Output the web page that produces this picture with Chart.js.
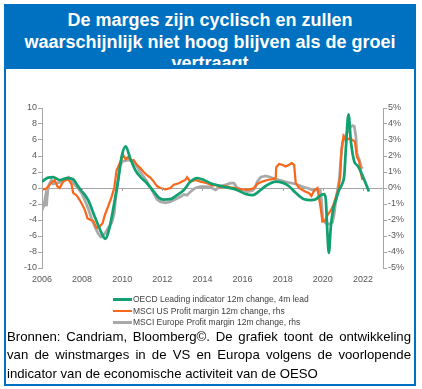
<!DOCTYPE html>
<html>
<head>
<meta charset="utf-8">
<script src="https://cdn.jsdelivr.net/npm/chart.js@4.4.1/dist/chart.umd.min.js"></script>
<style>
    html, body { margin: 0; padding: 0; background: #fff; }
    body { width: 422px; height: 389px; position: relative; overflow: hidden; font-family: "Liberation Sans", Arial, sans-serif; }
    #frame { position: absolute; left: 4px; top: 4px; width: 412px; height: 382px; box-sizing: border-box; border: 2px solid #0070C0; }
    #titleBand { position: absolute; left: 0; top: 0; width: 100%; height: 63px; background: #0070C0; }
    #title { position: absolute; left: 0; top: 0; width: 100%; height: 59.3px; color: #fff; overflow: hidden;
             font-weight: bold; font-size: 18px; line-height: 21.3px; text-align: center; padding-top: 4.4px; box-sizing: border-box; }
    #chartBox { position: absolute; left: 0; top: 95px; width: 422px; height: 200px; }
    #legend { position: absolute; left: 113px; top: 293.5px; font-size: 8.5px; color: #404040; }
    .row { display: flex; align-items: center; height: 11.5px; }
    .swatch { width: 19px; height: 2.5px; margin-right: 1px; }
    #caption { position: absolute; left: 7px; top: 328px; width: 404px; font-size: 13.2px; line-height: 18.3px; color: #000; text-align: justify; }
</style>
</head>
<body>
<div id="frame"><div id="titleBand"><div id="title">De marges zijn cyclisch en zullen waarschijnlijk niet hoog blijven als de groei vertraagt</div></div></div>
<div id="chartBox"><canvas id="marginChart"></canvas></div>
<div id="legend"></div>
<div id="caption">Bronnen: Candriam, Bloomberg©. De grafiek toont de ontwikkeling van de winstmarges in de VS en Europa volgens de voorlopende indicator van de economische activiteit van de OESO</div>

<script>
// ===== DATA =====
const xTickYears = [2006, 2008, 2010, 2012, 2014, 2016, 2018, 2020, 2022];

const seriesNames = [
    'OECD Leading indicator 12m change, 4m lead',
    'MSCI US Profit margin 12m change, rhs',
    'MSCI Europe Profit margin 12m change, rhs'
];
const seriesColors = ['#12A070', '#F7671C', '#A9A9A9'];

// OECD (linkeras)
const oecdYears = [2006.0, 2006.3, 2006.55, 2006.9, 2007.25, 2007.55, 2007.8, 2008.3, 2008.63, 2008.9, 2009.08, 2009.15,
    2009.38, 2009.63, 2009.8, 2009.97, 2010.17, 2010.4, 2010.65, 2010.9, 2011.23, 2011.57, 2011.82, 2012.07, 2012.4,
    2012.73, 2013.07, 2013.4, 2013.73, 2014.07, 2014.4, 2014.65, 2015.15, 2015.65, 2016.15, 2016.5, 2016.8, 2017.15,
    2017.65, 2017.98, 2018.3, 2018.65, 2019.07, 2019.4, 2019.65, 2019.9, 2020.07, 2020.15, 2020.23, 2020.3, 2020.4,
    2020.53, 2020.65, 2020.8, 2020.98, 2021.07, 2021.15, 2021.28, 2021.4, 2021.57, 2021.73, 2021.9, 2022.07, 2022.3];
const oecdValues = [0.8, 1.3, 1.35, 1.0, 1.25, 1.1, 0.2, -1.5, -3.6, -5.25, -6.2, -6.35,
    -4.8, -1.5, 1.0, 3.9, 5.2, 3.7, 2.25, 1.4, 0.6, -0.45, -1.2, -1.45, -1.4,
    -0.9, -0.25, 0.8, 1.25, 1.0, 0.6, 0.4, 0.1, -0.17, -0.75, -0.9, -0.45, 0.25,
    0.8, 0.67, 0.25, -0.6, -1.4, -1.5, -1.4, -0.9, -0.75, -1.5, -5.7, -8.1, -4.8,
    -2.5, -1.5, -0.3, 0.6, 1.6, 5.0, 9.2, 5.8, 3.3, 2.8, 2.0, 1.0, -0.45];

// MSCI US (rechteras, %)
const usYears = [2006.0, 2006.2, 2006.47, 2006.63, 2006.77, 2006.88, 2007.05, 2007.3, 2007.47, 2007.55, 2007.72, 2007.88,
    2007.97, 2008.13, 2008.27, 2008.43, 2008.55, 2008.72, 2008.88, 2009.02, 2009.13, 2009.3, 2009.47, 2009.6, 2009.72,
    2009.88, 2010.05, 2010.17, 2010.3, 2010.45, 2010.57, 2010.73, 2010.9, 2011.07, 2011.23, 2011.4, 2011.57, 2011.73,
    2011.9, 2012.15, 2012.4, 2012.57, 2012.82, 2012.98, 2013.15, 2013.23, 2013.4, 2013.65, 2013.9, 2014.23, 2014.48,
    2014.65, 2014.9, 2015.15, 2015.4, 2015.65, 2015.98, 2016.32, 2016.57, 2016.73, 2016.98, 2017.23, 2017.48, 2017.65,
    2017.68, 2017.82, 2017.98, 2018.15, 2018.32, 2018.45, 2018.57, 2018.65, 2018.82, 2018.98, 2019.15, 2019.32, 2019.43,
    2019.57, 2019.73, 2019.9, 2019.98, 2020.1, 2020.23, 2020.4, 2020.53, 2020.65, 2020.77, 2020.87, 2020.93, 2021.03,
    2021.15, 2021.32, 2021.48, 2021.6, 2021.7, 2021.82, 2021.9, 2021.98];
const usValues = [-0.1, -0.05, 0.33, 0.5, 0.1, 0.0, 0.4, 0.55, 0.25, -0.3, -0.45, -0.75,
    -0.95, -1.35, -1.9, -2.0, -2.05, -2.5, -2.4, -2.2, -1.7, -1.15, -0.55, 0.0, 1.1,
    1.55, 2.05, 1.8, 1.95, 1.7, 1.75, 1.45, 1.25, 1.0, 0.8, 0.65, 0.4, 0.12,
    0.0, -0.08, 0.0, 0.2, 0.3, 0.4, 0.5, 0.67, 0.4, 0.5, 0.4, 0.3, 0.15,
    0.2, 0.04, 0.12, 0.04, 0.0, -0.08, -0.1, 0.0, 0.25, 0.4, 0.5, 0.55, 0.6,
    1.3, 1.5, 1.45, 1.35, 1.45, 1.55, 1.45, 0.3, 0.0, -0.12, -0.23, -0.33, -0.5,
    -0.15, 0.0, -1.3, -2.1, -2.05, -1.7, -1.4, -1.05, -0.55, -0.12, 0.8, 2.4, 3.25,
    3.0, 3.1, 3.0, 2.9, 1.95, 1.65, 0.9, 0.5];

// MSCI Europe (rechteras, %)
const euYears = [2006.0, 2006.1, 2006.17, 2006.22, 2006.3, 2006.38, 2006.47, 2006.55, 2006.72, 2006.88, 2007.05, 2007.22,
    2007.33, 2007.47, 2007.63, 2007.8, 2007.97, 2008.13, 2008.3, 2008.47, 2008.63, 2008.8, 2008.93, 2009.05, 2009.13,
    2009.3, 2009.47, 2009.6, 2009.68, 2009.77, 2009.88, 2010.0, 2010.13, 2010.3, 2010.45, 2010.57, 2010.73, 2010.9,
    2011.07, 2011.23, 2011.4, 2011.57, 2011.73, 2011.9, 2012.15, 2012.4, 2012.65, 2012.9, 2013.07, 2013.23, 2013.4,
    2013.65, 2013.9, 2014.15, 2014.4, 2014.65, 2014.9, 2015.15, 2015.4, 2015.57, 2015.73, 2015.98, 2016.23, 2016.48,
    2016.62, 2016.73, 2016.9, 2017.15, 2017.4, 2017.65, 2017.98, 2018.32, 2018.65, 2018.9, 2019.07, 2019.23, 2019.4,
    2019.57, 2019.73, 2019.87, 2019.93, 2020.0, 2020.15, 2020.32, 2020.48, 2020.57, 2020.65, 2020.73, 2020.82, 2020.9,
    2020.98, 2021.1, 2021.23, 2021.37, 2021.48, 2021.57, 2021.65, 2021.7, 2021.82, 2021.9, 2021.98];
const euValues = [-1.4, -1.05, -0.55, -1.15, 0.0, 0.3, 0.5, 0.25, 0.3, 0.35, 0.45, 0.6,
    0.67, 0.5, 0.2, 0.0, -0.33, -0.75, -1.27, -1.9, -2.4, -2.85, -3.05, -2.95, -2.85,
    -2.5, -2.2, -1.6, -0.55, 0.3, 1.35, 1.65, 1.7, 1.75, 1.7, 1.65, 1.35, 1.0,
    0.7, 0.4, 0.04, -0.33, -0.7, -0.85, -0.92, -0.85, -0.7, -0.55, -0.4, -0.45, -0.23,
    0.0, 0.08, 0.08, 0.04, -0.12, 0.12, 0.2, 0.3, 0.3, 0.0, -0.12, -0.23, -0.17,
    0.0, 0.4, 0.67, 0.75, 0.67, 0.55, 0.45, 0.33, 0.25, 0.12, 0.04, 0.0, -0.08,
    -0.17, -0.08, -0.12, -0.75, -2.0, -2.2, -2.25, -2.15, -1.6, -0.75, -0.12, 0.5, 1.85,
    2.8, 3.2, 3.5, 3.8, 3.9, 3.85, 3.2, 2.15, 1.75, 1.35, 1.2];

// ===== HULPFUNCTIES =====
function toPoints(xs, ys) {
    return xs.map((x, i) => ({ x: x, y: ys[i] }));
}

const axisGray = '#A6A6A6';
const tickFont = { family: '"Liberation Sans", Arial, sans-serif', size: 9 };

// kleine streepjes op de nullijn
const zeroTicks = {
    id: 'zeroTicks',
    afterDatasetsDraw(chart) {
        const x = chart.scales.x, y = chart.scales.y;
        const y0 = y.getPixelForValue(0);
        const ctx = chart.ctx;
        ctx.save();
        ctx.strokeStyle = axisGray;
        ctx.lineWidth = 1;
        xTickYears.forEach(v => {
            const px = Math.round(x.getPixelForValue(v)) + 0.5;
            ctx.beginPath();
            ctx.moveTo(px, y0);
            ctx.lineTo(px, y0 + 3);
            ctx.stroke();
        });
        ctx.restore();
    }
};

function buildLegend() {
    const legend = document.getElementById('legend');
    legend.innerHTML = seriesNames.map((name, i) => `
        <div class="row"><span class="swatch" style="background:${seriesColors[i]}"></span>${name}</div>
    `).join('');
}

// ===== GRAFIEK =====
function initChart() {
    const ctx = document.getElementById('marginChart');
    new Chart(ctx, {
        type: 'line',
        data: {
            datasets: [{
                label: seriesNames[0],
                data: toPoints(oecdYears, oecdValues),
                borderColor: seriesColors[0],
                borderWidth: 2.75,
                cubicInterpolationMode: 'monotone',
                yAxisID: 'y'
            }, {
                label: seriesNames[1],
                data: toPoints(usYears, usValues),
                borderColor: seriesColors[1],
                borderWidth: 2.25,
                tension: 0,
                yAxisID: 'y1'
            }, {
                label: seriesNames[2],
                data: toPoints(euYears, euValues),
                borderColor: seriesColors[2],
                borderWidth: 2.75,
                tension: 0,
                yAxisID: 'y1'
            }]
        },
        options: {
            responsive: true,
            maintainAspectRatio: false,
            animation: false,
            layout: { padding: { left: 0, right: 0, top: 13, bottom: 0 } },
            elements: { point: { radius: 0 } },
            plugins: { legend: { display: false }, tooltip: { enabled: false } },
            scales: {
                x: {
                    type: 'linear',
                    min: 2006,
                    max: 2023,
                    afterBuildTicks: s => { s.ticks = xTickYears.map(v => ({ value: v })); },
                    afterFit: s => { s.height = 27; },
                    grid: { display: false, drawTicks: false },
                    border: { display: false },
                    ticks: { padding: 6, color: '#595959', font: tickFont, maxRotation: 0, callback: v => String(v) }
                },
                y: {
                    position: 'left',
                    min: -10,
                    max: 10,
                    afterFit: s => { s.width = 42; },
                    ticks: { stepSize: 2, padding: 1, color: '#595959', font: tickFont },
                    grid: {
                        color: c => (c.tick && c.tick.value === 0) ? axisGray : 'transparent',
                        tickColor: axisGray,
                        tickLength: 4
                    },
                    border: { display: true, color: axisGray }
                },
                y1: {
                    position: 'right',
                    min: -5,
                    max: 5,
                    afterFit: s => { s.width = 39; },
                    ticks: { stepSize: 1, padding: 1, color: '#595959', font: tickFont, callback: v => v + '%' },
                    grid: { drawOnChartArea: false, tickColor: axisGray, tickLength: 4 },
                    border: { display: true, color: axisGray }
                }
            }
        },
        plugins: [zeroTicks]
    });
}

document.addEventListener('DOMContentLoaded', function() {
    buildLegend();
    initChart();
});
</script>
</body>
</html>
